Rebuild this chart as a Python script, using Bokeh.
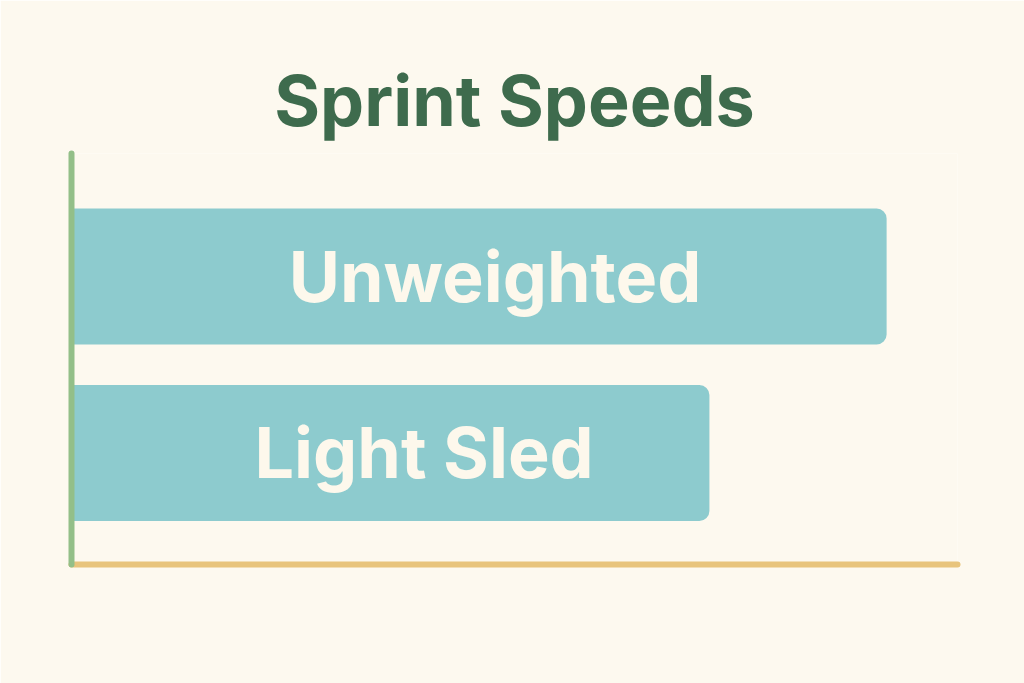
from bokeh.plotting import figure
from bokeh.models import Range1d, ColumnDataSource, FixedTicker
from bokeh.core.properties import value
from bokeh.embed import file_html
from bokeh.resources import INLINE

categories = ["Light Sled", "Unweighted"]
speeds = [7.2, 9.2]
title_text = "Sprint Speeds"

BG = "#FDF9EF"
BAR = "#8DCBCE"
GREEN_AX = "#93BF88"
GOLD_AX = "#E8C47C"
TITLE_C = "#3E6B4D"
LABEL_C = "#FDF8EC"
FONT = "Inter"

ypos = list(range(len(categories)))
src = ColumnDataSource(dict(cat=categories, v=speeds, y=ypos,
                            lx=[s * 0.4 + 1.1 for s in speeds]))

p = figure(width=1024, height=683, output_backend="svg", toolbar_location=None,
           x_range=Range1d(0, 10), y_range=Range1d(-0.632, 1.697),
           min_border_left=71, min_border_right=67, min_border_top=153, min_border_bottom=119)
p.background_fill_color = BG
p.border_fill_color = BG
p.outline_line_color = None
p.grid.visible = False

p.title.text = title_text
p.title.align = "center"
p.title.text_font = FONT
p.title.text_font_style = "bold"
p.title.text_font_size = "70px"
p.title.text_color = TITLE_C
p.title.standoff = 22

p.hbar(y="y", right="v", left=0, height=0.77, source=src, fill_color=BAR, line_color=None,
       border_radius=(0, 10, 10, 0))
p.text(x="lx", y="y", text="cat", source=src, text_align="center", text_baseline="middle",
       text_font=value(FONT), text_font_style="bold", text_font_size="70px", text_color=LABEL_C)

for ax, col in ((p.xaxis, GOLD_AX), (p.yaxis, GREEN_AX)):
    ax.ticker = FixedTicker(ticks=[])
    ax.axis_line_color = col
    ax.axis_line_width = 6
    ax.axis_line_cap = "round"
    ax.major_tick_line_color = None
    ax.minor_tick_line_color = None
    ax.major_tick_out = 0
    ax.major_tick_in = 0
    ax.minor_tick_out = 0

open("out.html", "w").write(file_html(p, INLINE))
